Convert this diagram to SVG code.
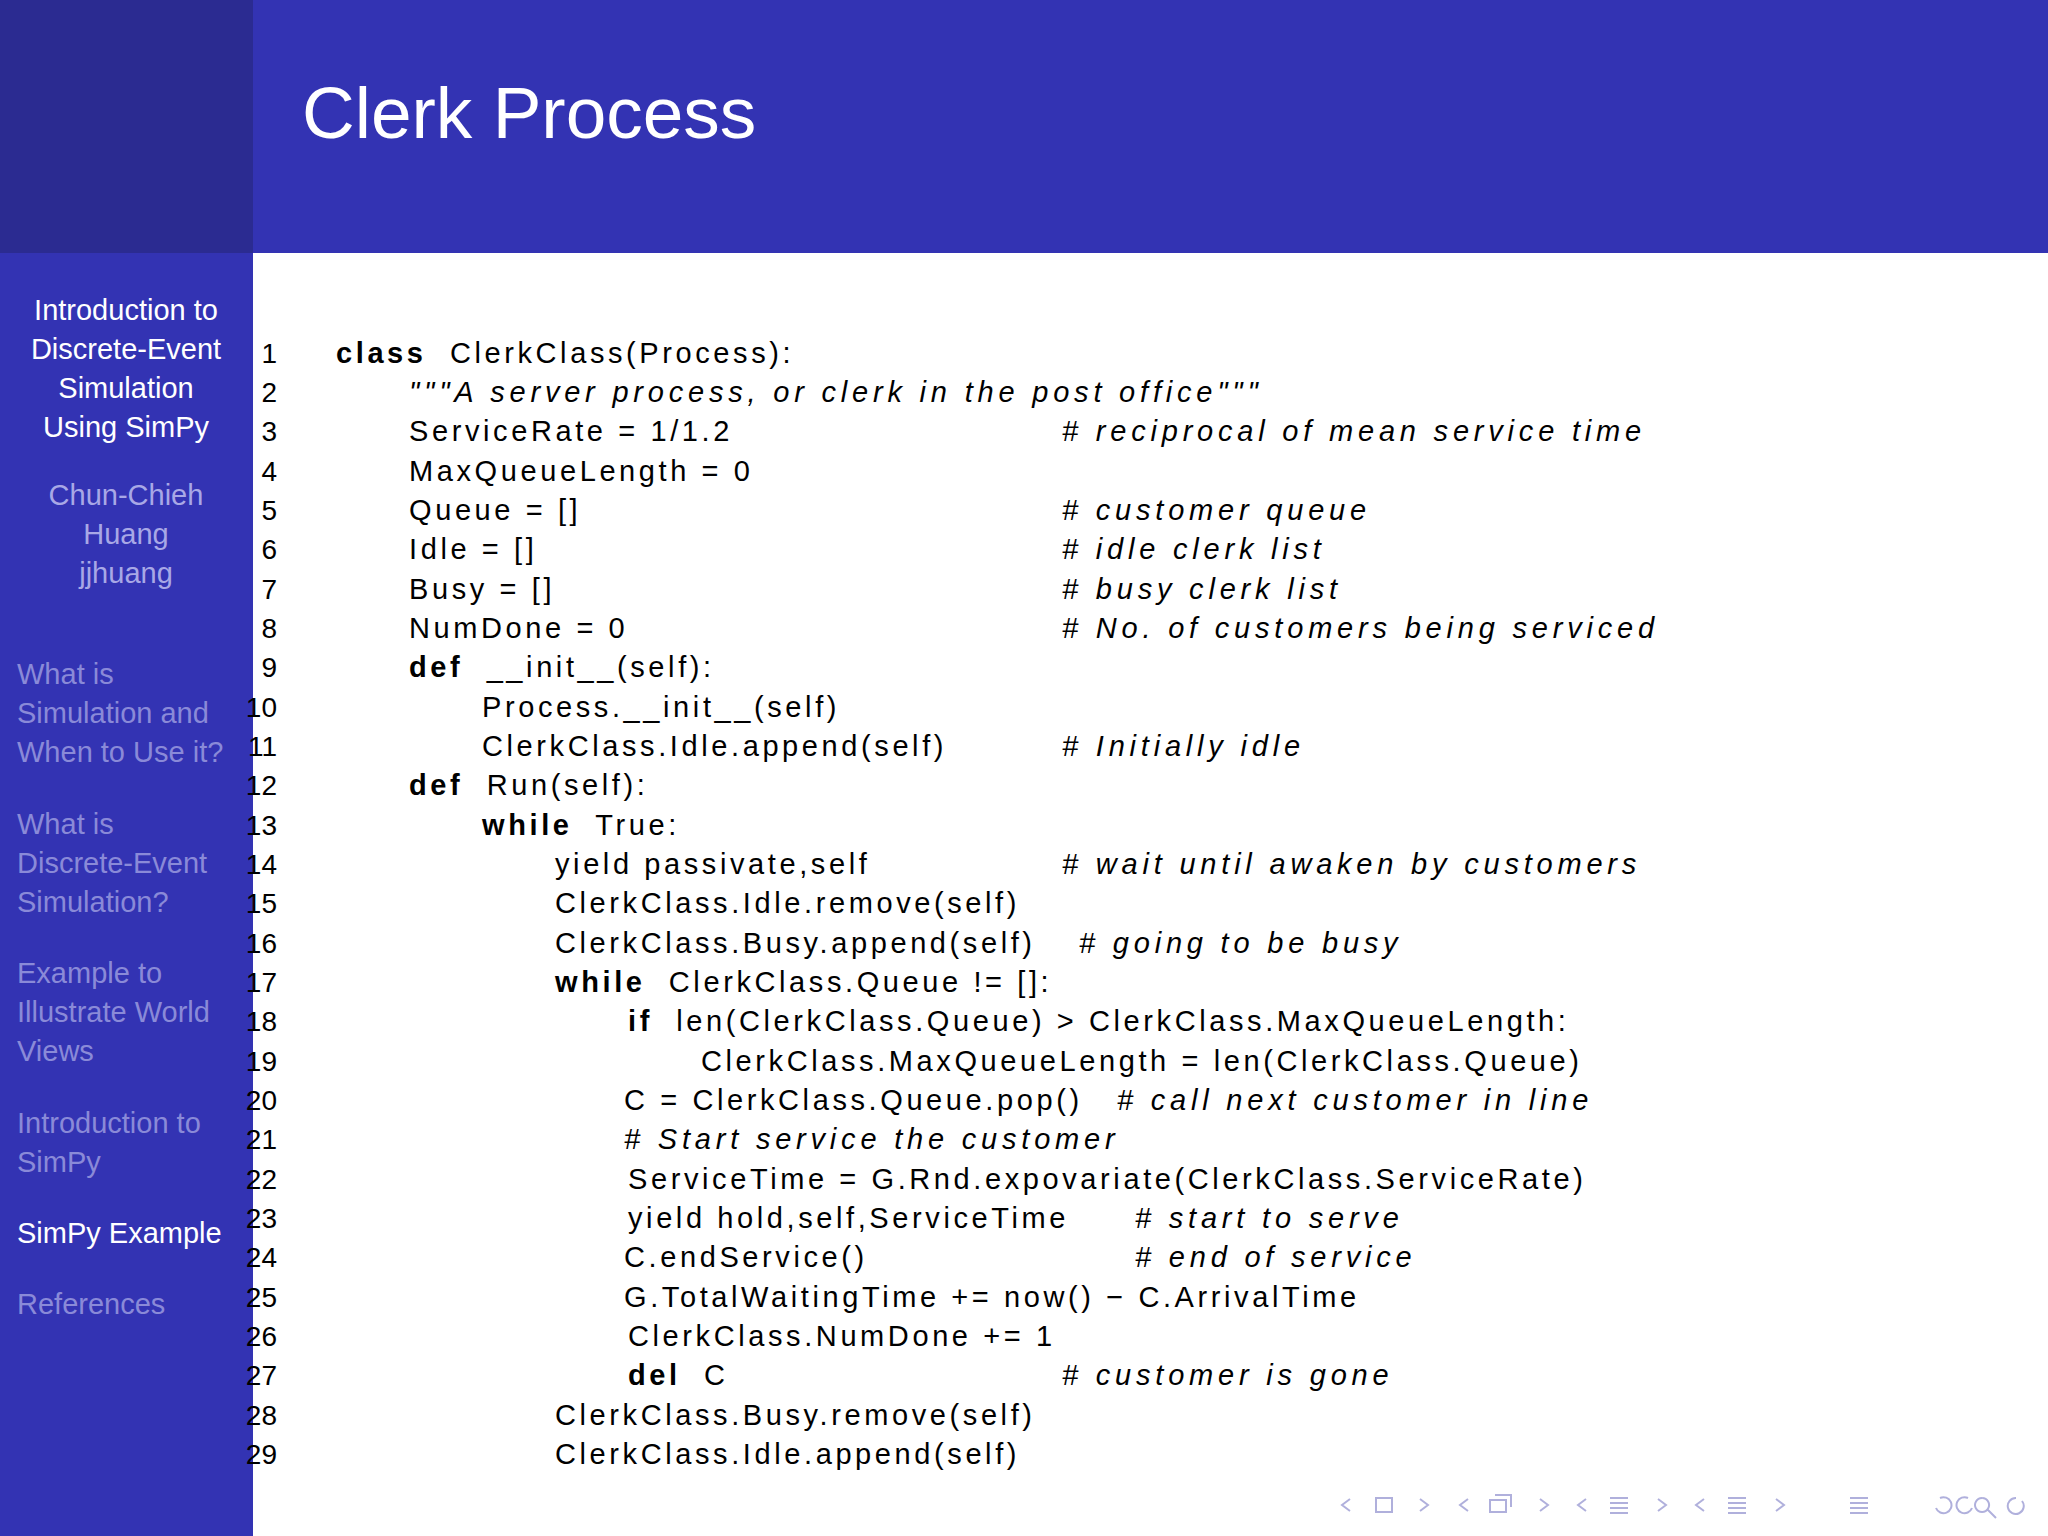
<svg xmlns="http://www.w3.org/2000/svg" width="2048" height="1536" viewBox="0 0 2048 1536">
<style>
.sb{font-family:"Liberation Sans",Arial,sans-serif;font-size:29px;text-anchor:middle}
.sl{font-family:"Liberation Sans",Arial,sans-serif;font-size:29px;fill:#8a8ad8}
.c{font-family:"Liberation Sans",Arial,sans-serif;font-size:29px;fill:#000;letter-spacing:3.6px;white-space:pre}
.k{font-weight:bold}
.i{font-style:italic;letter-spacing:4.8px}
.n{font-family:"Liberation Sans",Arial,sans-serif;font-size:28px;fill:#000;text-anchor:end}
.nav{fill:none;stroke:#b0b0dc;stroke-width:2}
</style>
<rect width="2048" height="1536" fill="#fff"/>
<g id="header">
<rect x="253" y="0" width="1795" height="253" fill="#3333b3"/>
<rect x="0" y="0" width="253" height="253" fill="#2b2b91"/>
<text x="302" y="138" font-family="Liberation Sans,Arial,sans-serif" font-size="73" fill="#fff">Clerk Process</text>
</g>
<g id="sidebar">
<rect x="0" y="253" width="253" height="1283" fill="#3333b3"/>
<g class="sb" fill="#fff">
<text x="126" y="320">Introduction to</text>
<text x="126" y="359">Discrete-Event</text>
<text x="126" y="398">Simulation</text>
<text x="126" y="437">Using SimPy</text>
</g>
<g class="sb" fill="#a8a8e6">
<text x="126" y="505">Chun-Chieh</text>
<text x="126" y="544">Huang</text>
<text x="126" y="583">jjhuang</text>
</g>
<text class="sl" x="17" y="684">What is</text>
<text class="sl" x="17" y="723">Simulation and</text>
<text class="sl" x="17" y="762">When to Use it?</text>
<text class="sl" x="17" y="834">What is</text>
<text class="sl" x="17" y="873">Discrete-Event</text>
<text class="sl" x="17" y="912">Simulation?</text>
<text class="sl" x="17" y="983">Example to</text>
<text class="sl" x="17" y="1022">Illustrate World</text>
<text class="sl" x="17" y="1061">Views</text>
<text class="sl" x="17" y="1133">Introduction to</text>
<text class="sl" x="17" y="1172">SimPy</text>
<text class="sl" x="17" y="1243" style="fill:#fff">SimPy Example</text>
<text class="sl" x="17" y="1314">References</text>
</g>
<g id="linenos">
<text class="n" x="277" y="363">1</text><text class="n" x="277" y="402">2</text><text class="n" x="277" y="441">3</text><text class="n" x="277" y="481">4</text><text class="n" x="277" y="520">5</text><text class="n" x="277" y="559">6</text><text class="n" x="277" y="599">7</text><text class="n" x="277" y="638">8</text><text class="n" x="277" y="677">9</text><text class="n" x="277" y="717">10</text><text class="n" x="277" y="756">11</text><text class="n" x="277" y="795">12</text><text class="n" x="277" y="835">13</text><text class="n" x="277" y="874">14</text><text class="n" x="277" y="913">15</text><text class="n" x="277" y="953">16</text><text class="n" x="277" y="992">17</text><text class="n" x="277" y="1031">18</text><text class="n" x="277" y="1071">19</text><text class="n" x="277" y="1110">20</text><text class="n" x="277" y="1149">21</text><text class="n" x="277" y="1189">22</text><text class="n" x="277" y="1228">23</text><text class="n" x="277" y="1267">24</text><text class="n" x="277" y="1307">25</text><text class="n" x="277" y="1346">26</text><text class="n" x="277" y="1385">27</text><text class="n" x="277" y="1425">28</text><text class="n" x="277" y="1464">29</text>
</g>
<g id="code">
<text class="c" x="336" y="363"><tspan class="k">class</tspan>  ClerkClass(Process):</text>
<text class="c i" x="409" y="402">"""A server process, or clerk in the post office"""</text>
<text class="c" x="409" y="441">ServiceRate = 1/1.2</text><text class="c i" x="1062" y="441"># reciprocal of mean service time</text>
<text class="c" x="409" y="481">MaxQueueLength = 0</text>
<text class="c" x="409" y="520">Queue = []</text><text class="c i" x="1062" y="520"># customer queue</text>
<text class="c" x="409" y="559">Idle = []</text><text class="c i" x="1062" y="559"># idle clerk list</text>
<text class="c" x="409" y="599">Busy = []</text><text class="c i" x="1062" y="599"># busy clerk list</text>
<text class="c" x="409" y="638">NumDone = 0</text><text class="c i" x="1062" y="638"># No. of customers being serviced</text>
<text class="c" x="409" y="677"><tspan class="k">def</tspan>  __init__(self):</text>
<text class="c" x="482" y="717">Process.__init__(self)</text>
<text class="c" x="482" y="756">ClerkClass.Idle.append(self)</text><text class="c i" x="1062" y="756"># Initially idle</text>
<text class="c" x="409" y="795"><tspan class="k">def</tspan>  Run(self):</text>
<text class="c" x="482" y="835"><tspan class="k">while</tspan>  True:</text>
<text class="c" x="555" y="874">yield passivate,self</text><text class="c i" x="1062" y="874"># wait until awaken by customers</text>
<text class="c" x="555" y="913">ClerkClass.Idle.remove(self)</text>
<text class="c" x="555" y="953">ClerkClass.Busy.append(self)</text><text class="c i" x="1079" y="953"># going to be busy</text>
<text class="c" x="555" y="992"><tspan class="k">while</tspan>  ClerkClass.Queue != []:</text>
<text class="c" x="628" y="1031"><tspan class="k">if</tspan>  len(ClerkClass.Queue) &gt; ClerkClass.MaxQueueLength:</text>
<text class="c" x="701" y="1071">ClerkClass.MaxQueueLength = len(ClerkClass.Queue)</text>
<text class="c" x="624" y="1110">C = ClerkClass.Queue.pop()</text><text class="c i" x="1117" y="1110"># call next customer in line</text>
<text class="c i" x="624" y="1149"># Start service the customer</text>
<text class="c" x="628" y="1189">ServiceTime = G.Rnd.expovariate(ClerkClass.ServiceRate)</text>
<text class="c" x="628" y="1228">yield hold,self,ServiceTime</text><text class="c i" x="1135" y="1228"># start to serve</text>
<text class="c" x="624" y="1267">C.endService()</text><text class="c i" x="1135" y="1267"># end of service</text>
<text class="c" x="624" y="1307">G.TotalWaitingTime += now() − C.ArrivalTime</text>
<text class="c" x="628" y="1346">ClerkClass.NumDone += 1</text>
<text class="c" x="628" y="1385"><tspan class="k">del</tspan>  C</text><text class="c i" x="1062" y="1385"># customer is gone</text>
<text class="c" x="555" y="1425">ClerkClass.Busy.remove(self)</text>
<text class="c" x="555" y="1464">ClerkClass.Idle.append(self)</text>
</g>
<g id="nav">
<path class="nav" d="M1350 1499l-8 6 8 6M1376 1498h16v14h-16zM1420 1499l8 6-8 6M1468 1499l-8 6 8 6M1490 1500h16v12h-16zM1495 1495h16v12M1540 1499l8 6-8 6M1586 1499l-8 6 8 6M1610 1498h18M1610 1503h18M1610 1508h18M1610 1513h18M1658 1499l8 6-8 6M1704 1499l-8 6 8 6M1728 1498h18M1728 1503h18M1728 1508h18M1728 1513h18M1776 1499l8 6-8 6M1850 1498h18M1850 1503h18M1850 1508h18M1850 1513h18M1940 1498a8 8 0 1 1-4 10M1968 1498a8 8 0 1 0 4 10M1982 1498a7 7 0 1 0 .1 0M1988 1510l8 8M2016 1498a8 8 0 1 0 6 3"/>
</g>
</svg>
